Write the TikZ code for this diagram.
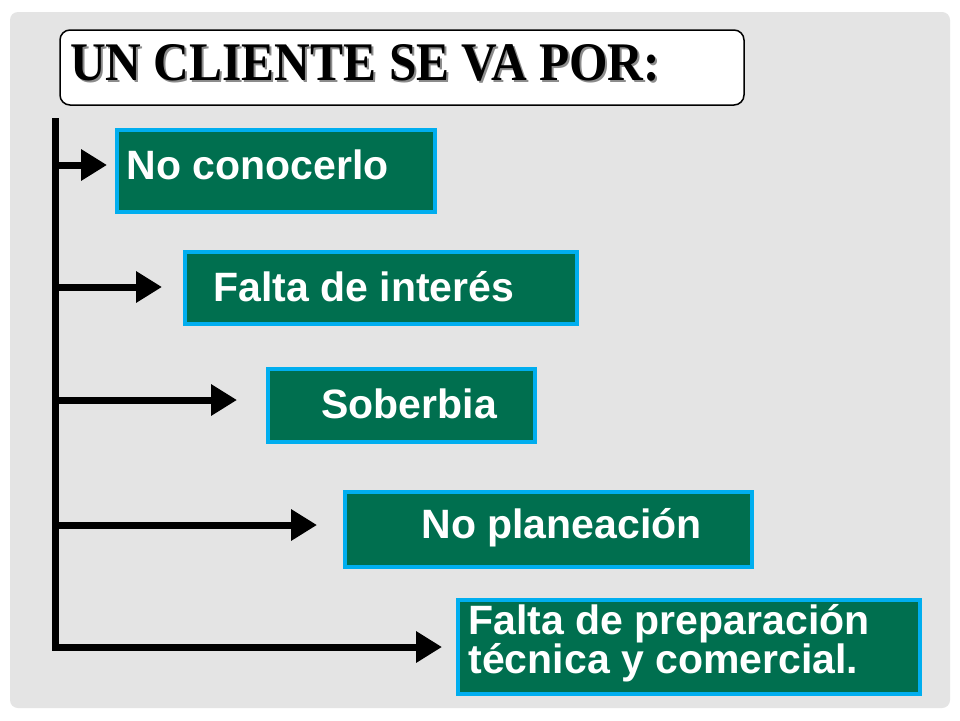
\documentclass[tikz,border=0pt]{standalone}
\usepackage{fontspec}
\setmainfont{Liberation Sans}
\newfontfamily\titlefont{Liberation Serif}
\usetikzlibrary{arrows.meta}
\definecolor{panel}{HTML}{E4E4E4}
\definecolor{boxgreen}{HTML}{006F4F}
\definecolor{boxcyan}{HTML}{00AEEF}
\tikzset{
  gbox/.style={draw=boxcyan,line width=4pt,fill=boxgreen,anchor=north west,inner sep=0pt},
  gtext/.style={text=white,font=\bfseries\fontsize{41}{36}\selectfont,anchor=west,align=left},
  arr/.style={line width=7pt,-{Triangle[length=26pt,width=30pt]}}
}
\begin{document}
\begin{tikzpicture}[x=1pt,y=-1pt]
\useasboundingbox (0,0) rectangle (960,720);
\fill[white] (0,0) rectangle (960,720);
\fill[panel,rounded corners=8pt] (10,12) rectangle (950,708);
\draw[line width=1.5pt,fill=white,rounded corners=10pt] (60,30) rectangle (744,105);
\node[anchor=base west,inner sep=0pt,text=black!45] (tsh) at (72,82) {\resizebox{590pt}{36pt}{\titlefont\bfseries\fontsize{50}{52}\selectfont UN CLIENTE SE VA POR:}};
\node[anchor=base west,inner sep=0pt] (title) at (70,80) {\resizebox{590pt}{36pt}{\titlefont\bfseries\fontsize{50}{52}\selectfont UN CLIENTE SE VA POR:}};
% boxes
\node[gbox,minimum width=318pt,minimum height=82pt] (b1) at (115,128) {};
\node[gbox,minimum width=392pt,minimum height=72pt] (b2) at (183,250) {};
\node[gbox,minimum width=267pt,minimum height=73pt] (b3) at (266,367) {};
\node[gbox,minimum width=407pt,minimum height=75pt] (b4) at (343,490) {};
\node[gbox,minimum width=462pt,minimum height=94pt] (b5) at (456,598) {};
\node[gtext] (t1) at (123,165) {No conocerlo};
\node[gtext] (t2) at (210,287) {Falta de interés};
\node[gtext] (t3) at (318,404) {Soberbia};
\node[gtext] (t4) at (418,528) {No planeación};
\node[gtext,font=\bfseries\fontsize{41}{36}\selectfont] (t5) at (465,643) {Falta de preparación\\técnica y comercial.};
% trunk
\coordinate (top) at (55,118);
\coordinate (bot) at (55,651);
\draw[line width=7pt] (top) -- (bot);
\coordinate (a1) at (52,165);
\coordinate (a2) at (52,287);
\coordinate (a3) at (52,400);
\coordinate (a4) at (52,525);
\coordinate (a5) at (52,647);
\coordinate (e1) at (107,165);
\coordinate (e2) at (162,287);
\coordinate (e3) at (237,400);
\coordinate (e4) at (317,525);
\coordinate (e5) at (442,647);
\foreach \i in {1,...,5} \draw[arr] (a\i) -- (e\i);
\end{tikzpicture}
\end{document}
